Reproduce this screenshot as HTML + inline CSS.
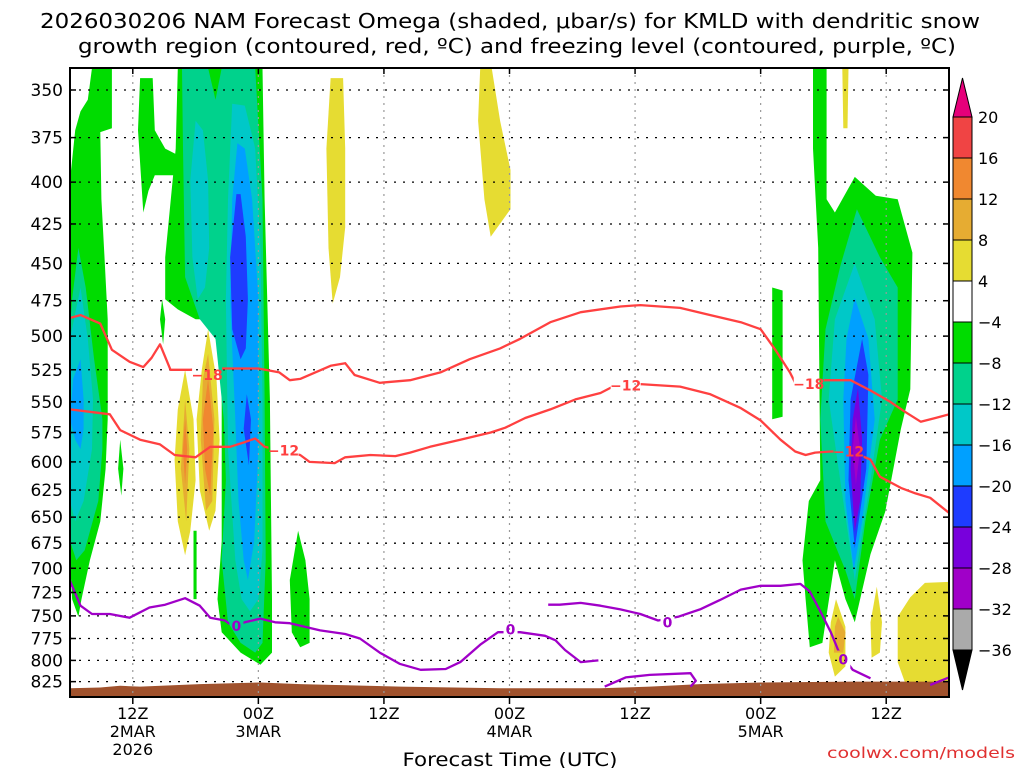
<!DOCTYPE html>
<html><head><meta charset="utf-8"><style>
html,body{margin:0;padding:0;background:#fff;}
svg{display:block;font-family:"DejaVu Sans","Liberation Sans",sans-serif;}
</style></head><body>
<svg id="chart" width="1024" height="768" viewBox="0 0 1024 768" xmlns="http://www.w3.org/2000/svg">
<text x="510" y="28" font-size="20" text-anchor="middle" textLength="940" lengthAdjust="spacingAndGlyphs" fill="#000">2026030206 NAM Forecast Omega (shaded, μbar/s) for KMLD with dendritic snow</text>
<text x="517" y="53" font-size="20" text-anchor="middle" textLength="878" lengthAdjust="spacingAndGlyphs" fill="#000">growth region (contoured, red, ºC) and freezing level (contoured, purple, ºC)</text>
<defs>
<clipPath id="plotclip"><rect x="70" y="68" width="879" height="629"/></clipPath>
</defs>
<g id="shade" clip-path="url(#plotclip)"></g>
<g id="grid"></g>
<g id="lines" clip-path="url(#plotclip)"></g>
<g id="axes"></g>
<g id="cbar"></g>
<text x="510" y="766" font-size="19" text-anchor="middle" textLength="215" lengthAdjust="spacingAndGlyphs">Forecast Time (UTC)</text>
<text x="1015" y="758" font-size="15" text-anchor="end" textLength="188" lengthAdjust="spacingAndGlyphs" fill="#e03030">coolwx.com/models</text>
</svg>
<script>
// ---- data ----
const pressureTicks=[350,375,400,425,450,475,500,525,550,575,600,625,650,675,700,725,750,775,800,825];
const timeTickHours=[6,18,30,42,54,66,78];
const timeTickLabels=[["12Z","2MAR","2026"],["00Z","3MAR"],["12Z"],["00Z","4MAR"],["12Z"],["00Z","5MAR"],["12Z"]];
const cbarLevels=[20,16,12,8,4,-4,-8,-12,-16,-20,-24,-28,-32,-36];
const cbarColors=["#f04444","#f08830","#e6ac32","#e6dc32","#ffffff","#00dc00","#00d28c","#00c8c8","#00a0ff","#1e3cff","#7800dc","#a000c8","#aaaaaa"];
// omega shaded regions: [hour, hPa] polygons
const omegaBlobs=[
 ["#00dc00",[[1,361],[1.7,355],[2.1,339],[4,339],[4,370],[2.9,372],[3,410],[3.3,446],[3.6,488],[3.6,564],[3.4,606],[2.9,654],[1.9,692],[1.1,732],[0.8,751],[0.2,732],[0,692],[0,399],[0.5,371]]],
 ["#00d28c",[[0.2,474],[0.8,440],[1.5,466],[2.3,517],[3.1,564],[3.1,589],[2.7,635],[1.4,682],[0.6,692],[0,673],[0,495]]],
 ["#00c8c8",[[0,502],[1,466],[1.7,502],[2.2,548],[2.1,589],[1.3,635],[0.5,654],[0,635]]],
 ["#00a0ff",[[0.3,532],[1,517],[1.3,548],[1.3,572],[1,589],[0.5,581],[0,564]]],
 ["#00dc00",[[4.8,581],[5.1,606],[4.9,630],[4.6,606]]],
 ["#00dc00",[[6.7,344],[7.9,344],[8.1,371],[9.1,381],[10.1,384],[10.1,396],[8.1,396],[7.5,405],[7,418],[6.5,371]]],
 ["#00dc00",[[8.8,474],[9.1,488],[8.9,506],[8.6,488]]],
 ["#00dc00",[[11.8,663],[12.1,663],[12.1,732],[11.8,732]]],
 ["#e6dc32",[[11,525],[11.8,564],[12,616],[11.5,663],[11,687],[10.3,654],[10,598],[10.3,556]]],
 ["#e6ac32",[[11,548],[11.4,589],[11.1,654],[10.6,606]]],
 ["#f08830",[[11,564],[11.2,589],[11,620],[10.8,589]]],
 ["#e6dc32",[[13.2,495],[14,532],[14.3,581],[13.9,644],[13.3,663],[12.4,625],[12.1,564],[12.6,525]]],
 ["#e6ac32",[[13.2,513],[13.8,564],[13.6,635],[13,644],[12.5,581],[12.7,532]]],
 ["#f08830",[[13.2,532],[13.7,572],[13.4,630],[12.9,606],[12.7,564]]],
 ["#00dc00",[[10.3,339],[10.1,381],[9.1,446],[9.1,474],[10.3,481],[12,488],[13.4,488],[14.5,517],[14.5,673],[14.1,732],[14.5,768],[16.3,791],[18.2,805],[19.3,791],[19.3,732],[19.1,548],[18.6,410],[18.4,339]]],
 ["#00d28c",[[10.7,339],[13.2,339],[13.9,355],[14.5,339],[17.7,339],[18.4,410],[18.6,548],[18.7,692],[18.4,780],[17.7,791],[16.3,780],[15.1,757],[14.5,692],[14.9,616],[14.7,564],[13.9,502],[12.4,488],[11,459],[10.8,381]]],
 ["#00c8c8",[[15.5,357],[16.7,358],[17.7,381],[18.2,440],[18.4,548],[18.4,682],[18,732],[17.2,745],[16.4,732],[15.8,692],[15.1,589],[14.9,474],[15.1,410]]],
 ["#00c8c8",[[12,366],[12.7,371],[13.2,399],[13.3,440],[12.9,466],[12.2,474],[11.7,446],[11.5,399]]],
 ["#00a0ff",[[16,378],[16.7,381],[17.4,410],[18,474],[18,589],[17.6,673],[17,712],[16.6,692],[16.1,635],[15.8,564],[15.3,474],[15.5,410]]],
 ["#1e3cff",[[15.9,407],[16.3,407],[16.8,433],[17,474],[16.8,509],[16.3,517],[15.5,495],[15.3,446]]],
 ["#1e3cff",[[16.9,544],[17.3,564],[17.1,603],[16.6,572]]],
 ["#00dc00",[[21.8,663],[22.5,692],[22.9,732],[22.9,780],[22,785],[21.2,768],[21,712]]],
 ["#e6dc32",[[24.9,344],[26.1,344],[26.3,381],[26.3,427],[25.8,459],[25.1,477],[24.7,440],[24.5,381]]],
 ["#e6dc32",[[39.2,339],[40.3,339],[41.1,366],[42.1,393],[42.1,416],[40.2,433],[39.6,410],[39,366]]],
 ["#00dc00",[[71.2,339],[72.3,339],[72.3,410],[73.1,418],[75,397],[77,408],[79.1,410],[80.5,443],[80.3,540],[79.4,572],[77.9,645],[76.5,686],[75,757],[74.1,732],[73.1,692],[71.9,780],[70.7,785],[70.3,732],[70,692],[70.6,635],[71.7,616],[71.5,440],[71,381],[71,339]]],
 ["#00d28c",[[75.2,416],[77.4,446],[79.1,466],[79.1,548],[77.4,581],[76,654],[75,732],[74.1,702],[72.2,654],[71.7,564],[72.2,495],[73.6,452]]],
 ["#00c8c8",[[75,450],[76.9,488],[77.6,548],[76.5,616],[75,712],[73.6,616],[72.5,548],[73.1,488]]],
 ["#00a0ff",[[75,473],[76.3,502],[76.9,564],[75.7,654],[74.9,702],[74.1,635],[73.9,548],[74.2,502]]],
 ["#1e3cff",[[75.7,502],[76.3,529],[76.1,606],[75,680],[74.4,616],[74.6,548]]],
 ["#7800dc",[[75.3,539],[75.7,581],[75.5,635],[75,664],[74.6,606],[74.8,564]]],
 ["#a000c8",[[75.1,562],[75.5,589],[75.1,620],[74.8,589]]],
 ["#00dc00",[[67.1,466],[68.1,468],[68.1,562],[67.1,564]]],
 ["#e6dc32",[[73.8,339],[74.4,339],[74.3,370],[73.9,370]]],
 ["#e6dc32",[[73.2,732],[74.1,762],[74.1,807],[73.1,819],[72.5,791],[72.7,757]]],
 ["#e6ac32",[[73.4,751],[74.1,768],[73.9,791],[73,791],[73.1,762]]],
 ["#e6dc32",[[77.1,719],[77.6,757],[77.4,791],[76.6,797],[76.5,757]]],
 ["#e6dc32",[[79.1,751],[80.3,730],[81.7,715],[84,714],[84,826],[79.8,826],[79.1,802]]]
];
const groundHours=[0,2.9,4.8,6.7,12.4,18.2,22,31.6,41.1,50.7,55.4,60.2,66,74.6,84];
const groundPressure=[833,832,830,831,828,826,828,831,833,833,831,828,826,825,825];
const iso18=[[0,487],[1,485],[2.9,491],[4,510],[5.7,519],[7,523],[7.8,516],[8.6,506],[9.6,525],[11.5,525],[13.4,524],[15.3,524],[18,524],[20,527],[21,533],[22,532],[24.9,522],[26.3,520],[27.2,529],[29.6,535],[32.5,533],[35.4,527],[38.2,517],[41.1,509],[43,502],[45.9,490],[48.8,483],[52.6,479],[54.5,478],[58.3,480],[61.2,485],[64.1,490],[66,495],[67.4,510],[68.8,527],[69.3,535],[71.7,533],[74.6,533],[76.5,541],[78.4,550],[79.8,558],[81.3,566],[82.7,563],[84,560]];
const iso12=[[0,556],[1.9,558],[3.8,560],[4.8,573],[6.7,581],[8.6,585],[10,594],[12,596],[13.4,587],[15.3,587],[16.7,583],[17.7,580],[18.6,587],[22,594],[22.9,600],[25.3,601],[26.3,596],[28.7,594],[31.1,595],[32.5,592],[34.4,587],[37.3,581],[40.2,575],[41.6,571],[43.5,563],[45.9,556],[48.3,548],[50.7,543],[52.1,537],[54.5,536],[58.3,538],[61.2,544],[64.1,555],[66,565],[67.9,581],[69.3,591],[70.3,594],[71.2,592],[72.7,591],[74.6,591],[76.5,598],[77.4,613],[79.4,623],[80.8,628],[82.2,632],[84,646]];
const freezeA=[[0,713],[1,739],[2.1,748],[3.8,748],[5.7,752],[7.6,741],[9.1,738],[11,731],[12.4,739],[13.4,752],[14.8,755],[15.5,761],[16.7,757],[18.2,753],[19.6,757],[21,758],[23.9,766],[26.3,770],[27.7,775],[29.6,791],[31.5,804],[33.5,811],[35.9,810],[37.3,802],[39.2,782],[40.9,768],[43,768],[45.4,772],[46.4,777],[47.3,788],[48.8,802],[50.5,800]];
const freezeB=[[45.7,738],[46.8,738],[48.8,736],[50.7,739],[52.6,743],[54.5,748],[56.2,755],[58.1,751],[60.2,743],[62.1,733],[64.1,722],[66,718],[67.9,718],[69.8,716],[70.7,724],[71.7,745],[72.7,768],[73.4,788],[74.8,811],[76.5,821]];
const freezeC=[[51.1,831],[53.1,820],[55.4,817],[59.3,815],[59.8,824],[59.3,831]];
const freezeD=[[82.2,829],[84,820]];
const redLabels=[[13.1,529,"-18"],[70.6,536,"-18"],[20.4,590,"-12"],[53.1,537,"-12"],[74.4,591,"-12"]];
const purpleLabels=[[15.9,761,"0"],[42.1,765,"0"],[57.1,757,"0"],[73.9,799,"0"]];

// ---- scales ----
const X0=70,X1=949,Y0=68,Y1=697;
function xs(h){return X0+h*(X1-X0)/84;}
function ys(p){return 90+(Math.log(p)-Math.log(350))*690;}
const NS="http://www.w3.org/2000/svg";
function mk(tag,attrs,parent){const e=document.createElementNS(NS,tag);for(const k in attrs)e.setAttribute(k,attrs[k]);parent.appendChild(e);return e;}
function pts(arr){return arr.map(d=>xs(d[0]).toFixed(1)+","+ys(d[1]).toFixed(1)).join(" ");}

const shade=document.getElementById('shade');
omegaBlobs.forEach((b,i)=>{
  const e=mk('polygon',{points:pts(b[1]),fill:b[0]},shade);
  
  
});
{
  let d="M"+xs(groundHours[0])+","+Y1;
  groundHours.forEach((h,i)=>{d+=" L"+xs(h).toFixed(1)+","+ys(groundPressure[i]).toFixed(1);});
  d+=" L"+xs(84)+","+Y1+" Z";
  const g=mk('path',{d:d,fill:"#a0522d"},shade);
  
  
}
const grid=document.getElementById('grid');
pressureTicks.forEach(p=>{
  const l=mk('line',{x1:X0,x2:X1,y1:ys(p),y2:ys(p),stroke:"#000","stroke-width":1.3,"stroke-dasharray":"2,7"},grid);
  
  
});
timeTickHours.forEach(h=>{
  const l=mk('line',{x1:xs(h),x2:xs(h),y1:Y0,y2:Y1,stroke:"#999","stroke-width":1.2,"stroke-dasharray":"2,5"},grid);
  
  
});
const lines=document.getElementById('lines');
const defs=document.querySelector('defs');
const mask=mk('mask',{id:"lblmask",maskUnits:"userSpaceOnUse",x:0,y:0,width:1024,height:768},defs);
mk('rect',{x:0,y:0,width:1024,height:768,fill:"#fff"},mask);
redLabels.forEach(l=>{mk('rect',{x:xs(l[0])-15,y:ys(l[1])-9,width:30,height:18,fill:"#000"},mask);});
purpleLabels.forEach(l=>{mk('rect',{x:xs(l[0])-7,y:ys(l[1])-9,width:14,height:18,fill:"#000"},mask);});
const lg=mk('g',{mask:"url(#lblmask)"},lines);
[[iso18,"#ff4040","isotherm-minus18"],[iso12,"#ff4040","isotherm-minus12"],[freezeA,"#a000c8","freezing-level-a"],[freezeB,"#a000c8","freezing-level-b"],[freezeC,"#a000c8","freezing-level-c"],[freezeD,"#a000c8","freezing-level-d"]].forEach(s=>{
  const e=mk('polyline',{points:pts(s[0]),fill:"none",stroke:s[1],"stroke-width":2.3,"stroke-linejoin":"round"},lg);
  
  
});
redLabels.forEach(l=>{
  const t=mk('text',{x:xs(l[0]),y:ys(l[1])+5,"font-size":14,"font-weight":"bold","text-anchor":"middle",fill:"#ff4040"},lines);
  t.textContent=l[2].replace('-','−');
  
  
});
purpleLabels.forEach(l=>{
  const t=mk('text',{x:xs(l[0]),y:ys(l[1])+5,"font-size":14,"font-weight":"bold","text-anchor":"middle",fill:"#a000c8"},lines);
  t.textContent=l[2];
  
  
});
const axes=document.getElementById('axes');
{
  const fr=mk('rect',{x:X0,y:Y0,width:X1-X0,height:Y1-Y0,fill:"none",stroke:"#000","stroke-width":2},axes);
  
  
}
pressureTicks.forEach(p=>{
  mk('line',{x1:X0,x2:X0+6,y1:ys(p),y2:ys(p),stroke:"#000","stroke-width":1.5},axes);
  mk('line',{x1:X1-6,x2:X1,y1:ys(p),y2:ys(p),stroke:"#000","stroke-width":1.5},axes);
  const t=mk('text',{x:63,y:ys(p)+6,"font-size":17,"text-anchor":"end"},axes);
  t.textContent=p;
  
  
});
timeTickHours.forEach((h,i)=>{
  mk('line',{x1:xs(h),x2:xs(h),y1:Y1,y2:Y1+7,stroke:"#000","stroke-width":1.5},axes);
  mk('line',{x1:xs(h),x2:xs(h),y1:Y0,y2:Y0+6,stroke:"#000","stroke-width":1.5},axes);
  timeTickLabels[i].forEach((s,j)=>{
    const t=mk('text',{x:xs(h),y:719+j*18,"font-size":16,"text-anchor":"middle"},axes);
    t.textContent=s;
    
    
  });
});
const cb=document.getElementById('cbar');
const CBX=953,CBW=19,CBT=117,CBH=41;
{
  const tri=mk('polygon',{points:`${CBX},${CBT} ${CBX+CBW/2},78 ${CBX+CBW},${CBT}`,fill:"#e6007a",stroke:"#000","stroke-width":1},cb);
  
  
}
cbarColors.forEach((c,i)=>{
  const r=mk('rect',{x:CBX,y:CBT+i*CBH,width:CBW,height:CBH,fill:c,stroke:"#000","stroke-width":1},cb);
  
  
});
{
  const yb=CBT+cbarColors.length*CBH;
  const tri=mk('polygon',{points:`${CBX},${yb} ${CBX+CBW/2},${yb+40} ${CBX+CBW},${yb}`,fill:"#000",stroke:"#000","stroke-width":1},cb);
  
  
}
cbarLevels.forEach((v,i)=>{
  const t=mk('text',{x:978,y:CBT+i*CBH+6,"font-size":16},cb);
  t.textContent=(v<0?"−":"")+Math.abs(v);
  
  
});
</script>
</body></html>
